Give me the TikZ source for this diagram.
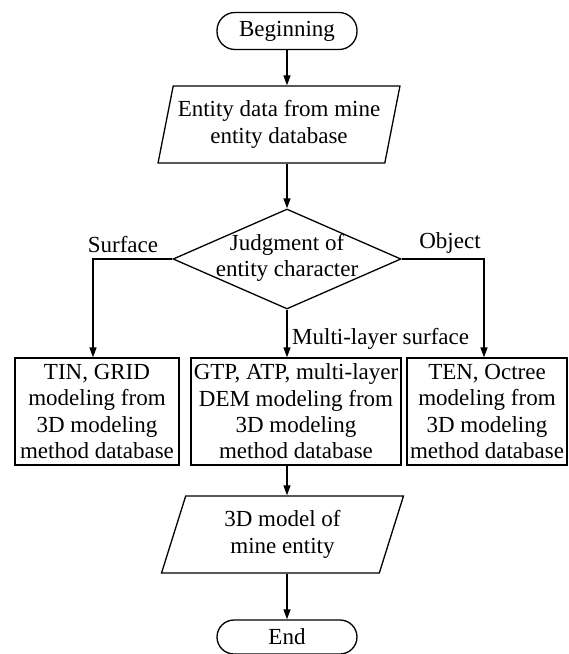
\documentclass[tikz,border=0pt]{standalone}
\usepackage{fontspec}
\setmainfont{Liberation Serif}
\usetikzlibrary{arrows.meta,shapes.geometric}
\begin{document}
\begin{tikzpicture}[x=1pt,y=-1pt,
 every node/.style={font=\fontsize{23}{26.3}\selectfont},
 term/.style={draw, line width=1.3pt, rounded corners=18pt, minimum width=140pt, minimum height=37pt, inner sep=0},
 io/.style={draw, line width=1.3pt, trapezium, trapezium left angle=73, trapezium right angle=107, trapezium stretches=true, minimum width=242pt, minimum height=77pt, inner sep=0, align=center},
 decide/.style={draw, line width=1.3pt, diamond, minimum width=228pt, minimum height=100pt, inner sep=0},
 proc/.style={draw, line width=1.3pt, minimum height=107pt, inner sep=0, align=center},
 flow/.style={line width=1.3pt, -{Triangle[length=10pt,width=7pt]}},
 lbl/.style={inner sep=0}
]
\useasboundingbox (0,0) rectangle (569,654);
\node[term] (b) at (287,31) {Beginning};
\node[io] (p1) at (279,124.5) {Entity data from mine\\entity database};
\node[decide] (d) at (287,259) {};
\node[lbl, align=center] (dt) at (287,258) {Judgment of\\entity character};
\node[proc, minimum width=164pt] (l) at (97,411.5) {TIN, GRID\\modeling from\\3D modeling\\method database};
\node[proc, minimum width=210pt] (m) at (296,411.5) {GTP, ATP, multi-layer\\DEM modeling from\\3D modeling\\method database};
\node[proc, minimum width=160pt] (r) at (487,411.5) {TEN, Octree\\modeling from\\3D modeling\\method database};
\node[io] (p2) at (282.5,534.5) {3D model of\\mine entity};
\node[term, minimum height=34pt, rounded corners=17pt] (e) at (287,637) {End};
\node[lbl] (ls) at (123,245) {Surface};
\node[lbl] (lo) at (450,243) {Object};
\node[lbl, anchor=west] (lm) at (292,339) {Multi-layer surface};
\draw[flow] (b.south) -- (b.south |- p1.north);
\draw[flow] (p1.south -| b.south) -- (d.north);
\draw[flow] (d.west) -| ([xshift=-4pt]l.north);
\draw[flow] (d.east) -| ([xshift=-3pt]r.north);
\draw[flow] (d.south) -- (d.south |- m.north);
\draw[flow] (m.south -| b.south) -- (b.south |- p2.north);
\draw[flow] (p2.south -| b.south) -- (e.north);
\end{tikzpicture}
\end{document}
